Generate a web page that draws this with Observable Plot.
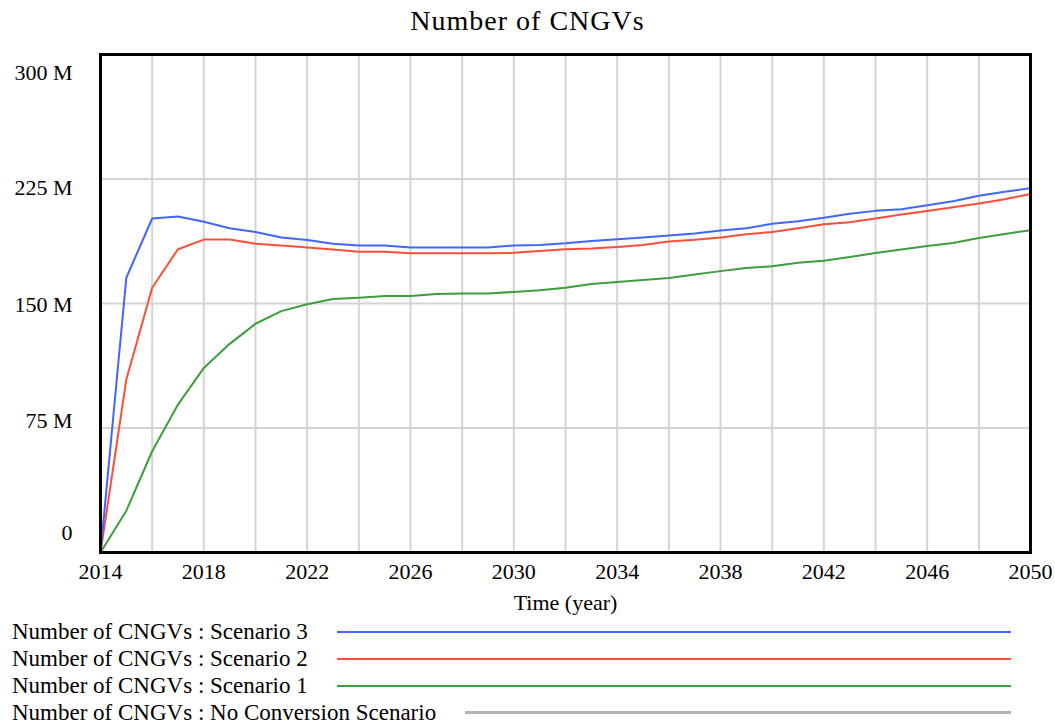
<!DOCTYPE html>
<html>
<head>
<meta charset="utf-8">
<script src="https://cdn.jsdelivr.net/npm/d3@7"></script>
<script src="https://cdn.jsdelivr.net/npm/@observablehq/plot@0.6"></script>
<style>
  html, body { margin: 0; padding: 0; background: #fff; }
  body { width: 1055px; height: 725px; overflow: hidden; font-family: "Liberation Serif", "Times New Roman", serif; }
  #title { height: 40px; line-height: 40px; padding-top: 1px; box-sizing: border-box; text-align: center; font-size: 28px; letter-spacing: 1px; color: #000; }
  #legend { padding-left: 12px; width: 1011px; box-sizing: border-box; }
  .row { display: flex; align-items: center; height: 26.8px; font-size: 23px; color: #000; white-space: nowrap; }
  .row .sw { flex: 1; margin-left: 29px; height: 0; }
</style>
</head>
<body>
<div id="title">Number of CNGVs</div>
<div id="chart"></div>
<div id="legend"></div>
<script>
// ---- data (values in millions of vehicles) ----
const years = [2014,2015,2016,2017,2018,2019,2020,2021,2022,2023,2024,2025,2026,2027,2028,2029,2030,2031,2032,2033,2034,2035,2036,2037,2038,2039,2040,2041,2042,2043,2044,2045,2046,2047,2048,2049,2050];
const scenario3 = [0,165.5,201.2,202.4,199.2,195.3,193.1,189.7,188.3,186.0,184.9,184.9,183.7,183.7,183.7,183.7,184.9,185.3,186.3,187.7,188.7,189.7,190.9,192.1,194.0,195.3,198.0,199.6,201.6,204.0,205.8,206.8,209.2,211.6,214.9,217.3,219.5];
const scenario2 = [0,104.2,159.5,182.7,188.5,188.5,186.0,184.9,183.7,182.5,181.2,181.2,180.3,180.3,180.3,180.3,180.5,181.7,182.7,183.1,184.0,185.2,187.3,188.4,189.7,191.7,193.1,195.3,197.7,198.9,201.2,203.6,205.7,208.0,210.3,212.8,216.0];
const scenario1 = [0,25.2,61.0,89.1,111.2,125.7,137.8,145.4,149.5,152.7,153.5,154.5,154.5,155.7,156.0,156.0,157.0,158.0,159.5,161.7,163.0,164.1,165.3,167.4,169.5,171.4,172.4,174.5,175.8,178.0,180.4,182.5,184.6,186.4,189.5,191.9,194.1];
const noConversion = [0,0,0,0,0,0,0,0,0,0,0,0,0,0,0,0,0,0,0,0,0,0,0,0,0,0,0,0,0,0,0,0,0,0,0,0,0];
const seriesNames = ["Number of CNGVs : Scenario 3","Number of CNGVs : Scenario 2","Number of CNGVs : Scenario 1","Number of CNGVs : No Conversion Scenario"];
const seriesColors = ["#4066ff","#ff4d38","#3c9e3c","#b4b4b4"];
const xTicks = [2014,2018,2022,2026,2030,2034,2038,2042,2046,2050];
const xGrid = [2016,2018,2020,2022,2024,2026,2028,2030,2032,2034,2036,2038,2040,2042,2044,2046,2048];
const yTicks = [0,75,150,225,300];
const yTickLabels = ["0","75 M","150 M","225 M","300 M"];
const yGrid = [75,150,225];

// build long table
const seriesValues = [scenario3, scenario2, scenario1, noConversion];
const rows = [];
seriesValues.forEach((vals, s) => vals.forEach((v, i) => rows.push({year: years[i], value: v, series: seriesNames[s]})));

const font = "Liberation Serif, Times New Roman, serif";
// per-tick vertical label nudges (reference places labels slightly inside the range)
const yLabelDy = [-19.5, -7, 1, 9, 18.5];

const yAxes = yTicks.map((t, i) => Plot.axisY([t], {
  tickSize: 0, tickPadding: 28, fontSize: 22, fontFamily: font, fill: "#000",
  tickFormat: () => yTickLabels[i], dy: yLabelDy[i], label: null
}));

const chart = Plot.plot({
  width: 1055,
  height: 579,
  marginTop: 14,
  marginBottom: 67,
  marginLeft: 100,
  marginRight: 25,
  style: {fontFamily: font, background: "#fff"},
  x: {domain: [2014, 2050]},
  y: {domain: [0, 300]},
  color: {domain: seriesNames, range: seriesColors},
  marks: [
    Plot.gridX(xGrid, {stroke: "#d4d4d4", strokeOpacity: 1, strokeWidth: 2}),
    Plot.gridY(yGrid, {stroke: "#d4d4d4", strokeOpacity: 1, strokeWidth: 2}),
    Plot.lineY(rows.filter(d => d.series === seriesNames[3]), {x: "year", y: "value", stroke: "series", strokeWidth: 2}),
    Plot.lineY(rows.filter(d => d.series === seriesNames[2]), {x: "year", y: "value", stroke: "series", strokeWidth: 2}),
    Plot.lineY(rows.filter(d => d.series === seriesNames[1]), {x: "year", y: "value", stroke: "series", strokeWidth: 2}),
    Plot.lineY(rows.filter(d => d.series === seriesNames[0]), {x: "year", y: "value", stroke: "series", strokeWidth: 2}),
    Plot.frame({stroke: "#000", strokeWidth: 3}),
    Plot.axisX(xTicks, {
      tickSize: 0, tickPadding: 11, fontSize: 22, fontFamily: font, fill: "#000",
      tickFormat: d => String(d),
      label: "Time (year)", labelAnchor: "center", labelArrow: "none", labelOffset: 57
    }),
    ...yAxes
  ]
});
document.getElementById("chart").appendChild(chart);

// legend
const legend = document.getElementById("legend");
seriesNames.forEach((name, i) => {
  const row = document.createElement("div");
  row.className = "row";
  const label = document.createElement("span");
  label.textContent = name;
  const sw = document.createElement("div");
  sw.className = "sw";
  sw.style.borderTop = (i === 3 ? 3 : 2) + "px solid " + seriesColors[i];
  row.appendChild(label);
  row.appendChild(sw);
  legend.appendChild(row);
});
</script>
</body>
</html>
